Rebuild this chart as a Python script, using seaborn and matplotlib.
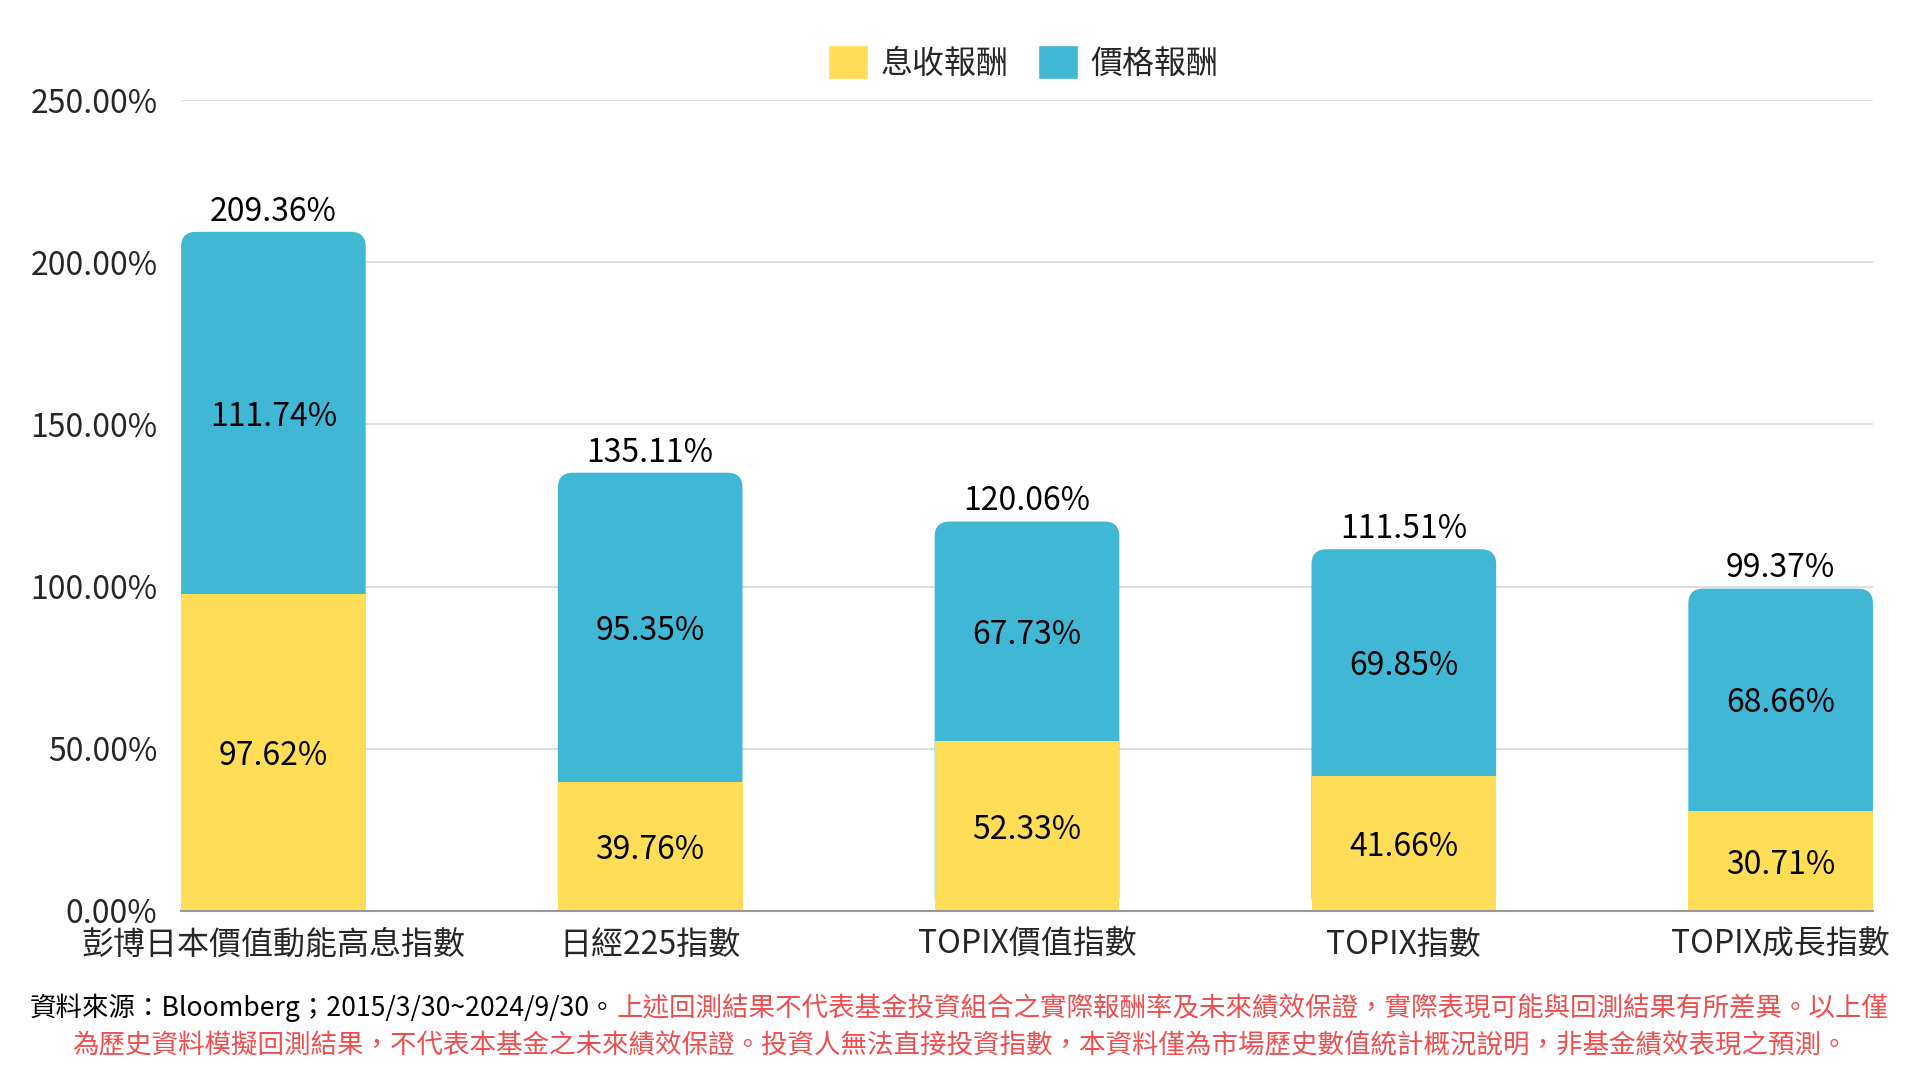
import matplotlib
matplotlib.use("Agg")
import matplotlib.pyplot as plt
from matplotlib.patches import FancyBboxPatch, Patch
from matplotlib.ticker import FuncFormatter
import seaborn as sns
import pandas as pd

# data
indices = ['彭博日本價值動能高息指數', '日經225指數', 'TOPIX價值指數', 'TOPIX指數', 'TOPIX成長指數']
income_ret = [97.62, 39.76, 52.33, 41.66, 30.71]
price_ret = [111.74, 95.35, 67.73, 69.85, 68.66]
totals = [209.36, 135.11, 120.06, 111.51, 99.37]
y_ticks = [0, 50, 100, 150, 200, 250]

yellow = '#FFDD57'
blue = '#41B7D6'
red = '#F04E4E'

sns.set_style('white')
plt.rcParams['font.family'] = ['Noto Sans CJK TC', 'DejaVu Sans']

df = pd.DataFrame({'idx': indices, 'income': income_ret, 'price': price_ret, 'total': totals})

fig = plt.figure(figsize=(19.2, 10.8), dpi=100)
ax = fig.add_axes([0.0943, 0.1565, 0.8812, 0.7509])

bw = 0.49
# blue bars = total height, yellow drawn over bottom part
sns.barplot(data=df, x='idx', y='total', color=blue, width=bw, ax=ax, saturation=1,
            linewidth=0, zorder=2)
n_blue = len(ax.patches)
sns.barplot(data=df, x='idx', y='income', color=yellow, width=bw, ax=ax, saturation=1,
            linewidth=0, zorder=4)

# replace blue rectangles with rounded-top versions
for p in ax.patches[:n_blue]:
    x0, y0, w, h = p.get_x(), p.get_y(), p.get_width(), p.get_height()
    p.set_visible(False)
    rb = FancyBboxPatch((x0, y0), w, h, boxstyle='round,pad=0,rounding_size=0.04',
                        mutation_aspect=115, facecolor=blue, edgecolor='none', zorder=3)
    ax.add_patch(rb)

for i in range(len(indices)):
    ax.text(i, income_ret[i] / 2, f'{income_ret[i]:.2f}%', ha='center', va='center_baseline',
            fontsize=23, color='black', zorder=5)
    ax.text(i, income_ret[i] + price_ret[i] / 2, f'{price_ret[i]:.2f}%', ha='center',
            va='center_baseline', fontsize=23, color='black', zorder=5)
    ax.annotate(f'{totals[i]:.2f}%', (i, totals[i]), xytext=(0, 3), textcoords='offset points',
                ha='center', va='bottom', fontsize=23, color='black')

ax.set_xlim(-bw / 2, len(indices) - 1 + bw / 2)
ax.set_ylim(0, 250)
ax.set_yticks(y_ticks)
ax.yaxis.set_major_formatter(FuncFormatter(lambda v, _: f'{v:.2f}%'))
ax.grid(axis='y', color='#d9d9d9', linewidth=1.2, zorder=0)
ax.set_axisbelow(True)
ax.set_xlabel('')
ax.set_ylabel('')
ax.tick_params(axis='y', length=0, pad=17, labelsize=23)
ax.tick_params(axis='x', length=0, pad=13, labelsize=23)
for s in ['top', 'right', 'left']:
    ax.spines[s].set_visible(False)
ax.spines['bottom'].set_color('#999999')
ax.spines['bottom'].set_linewidth(1.5)
ax.spines['bottom'].set_zorder(6)

handles = [Patch(facecolor=yellow, label='息收報酬'), Patch(facecolor=blue, label='價格報酬')]
fig.legend(handles=handles, loc='center', bbox_to_anchor=(0.533, 0.942), ncol=2,
           frameon=False, fontsize=23, handlelength=1.25, handleheight=1.25,
           handletextpad=0.4, columnspacing=0.9)

# footnote: black source part then red disclaimer on the same line
t1 = fig.text(0.0156, 0.059, '資料來源：Bloomberg；2015/3/30~2024/9/30。', fontsize=19.1,
              color='black', ha='left', va='baseline')
fig.canvas.draw()
bb = t1.get_window_extent()
fig.text(bb.x1 / fig.bbox.width, 0.059,
         '上述回測結果不代表基金投資組合之實際報酬率及未來績效保證，實際表現可能與回測結果有所差異。以上僅',
         fontsize=19.1, color=red, ha='left', va='baseline')
fig.text(0.5, 0.025, '為歷史資料模擬回測結果，不代表本基金之未來績效保證。投資人無法直接投資指數，本資料僅為市場歷史數值統計概況說明，非基金績效表現之預測。',
         fontsize=19.1, color=red, ha='center', va='baseline')

fig.savefig('out.png', dpi=100)
